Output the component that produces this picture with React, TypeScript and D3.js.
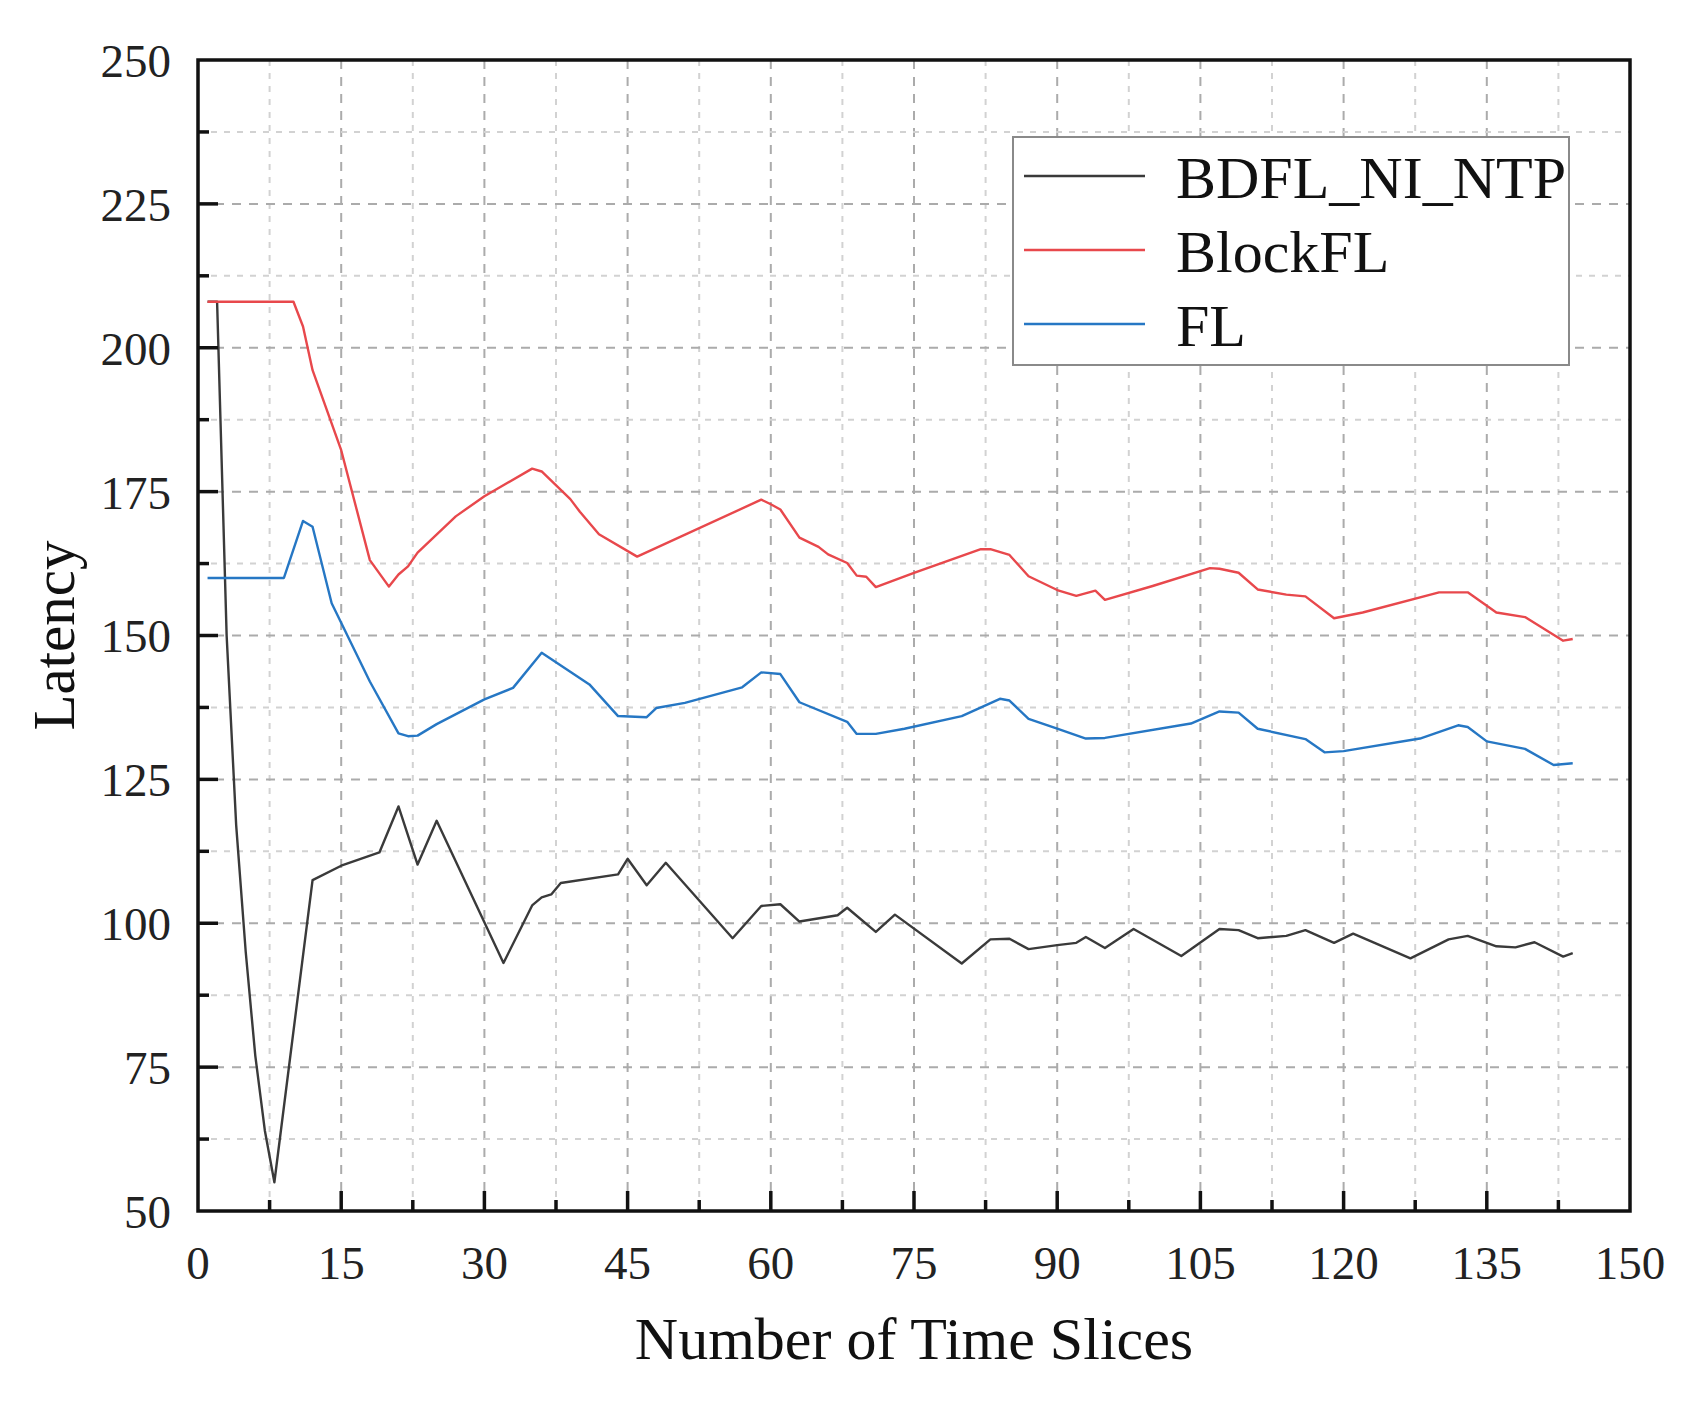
import { useRef, useEffect } from "react";
import * as d3 from "d3";

type Pt = [number, number];

// values (time slice, latency)
const BDFL_NI_NTP: Pt[] = [
  [1, 208], [2, 208], [3, 150], [4, 117], [5, 95], [6, 77], [7, 64], [8, 55],
  [12, 107.5], [15, 110], [19, 112.3], [21, 120.3], [23, 110.2], [25, 117.8],
  [32, 93.1], [35, 103.1], [36, 104.5], [37, 105], [38, 107], [44, 108.5],
  [45, 111.2], [47, 106.6], [49, 110.5], [56, 97.4], [59, 103], [61, 103.3],
  [63, 100.3], [67, 101.4], [68, 102.7], [71, 98.5], [73, 101.5], [80, 93],
  [83, 97.2], [85, 97.3], [87, 95.5], [90, 96.2], [92, 96.6], [93, 97.6],
  [95, 95.7], [98, 99], [103, 94.3], [107, 99], [109, 98.8], [111, 97.4],
  [114, 97.8], [116, 98.8], [119, 96.6], [121, 98.2], [127, 93.9], [131, 97.2],
  [133, 97.8], [136, 96], [138, 95.8], [140, 96.7], [143, 94.2], [144, 94.8],
];

const BLOCK_FL: Pt[] = [
  [1, 208], [10, 208], [11, 203.7], [12, 196.1], [15, 182.2], [18, 163.1],
  [20, 158.5], [21, 160.6], [22, 162], [23, 164.4], [27, 170.7], [30, 174.2],
  [35, 179], [36, 178.5], [38, 175.3], [39, 173.7], [40, 171.5], [42, 167.6],
  [46, 163.7], [59, 173.6], [60, 172.8], [61, 171.9], [63, 167], [65, 165.4],
  [66, 164.1], [68, 162.6], [69, 160.4], [70, 160.2], [71, 158.4], [75, 160.9],
  [82, 165], [83, 165], [85, 164], [87, 160.3], [90, 157.9], [92, 156.9],
  [94, 157.8], [95, 156.2], [100, 158.6], [106, 161.7], [107, 161.6],
  [109, 160.9], [111, 158], [114, 157.1], [116, 156.8], [119, 153], [122, 154],
  [130, 157.5], [133, 157.5], [136, 154], [139, 153.2], [143, 149.1], [144, 149.4],
];

const FL: Pt[] = [
  [1, 160], [9, 160], [11, 169.9], [12, 168.9], [14, 155.6], [18, 142],
  [21, 133], [22, 132.5], [23, 132.6], [25, 134.6], [30, 138.9], [33, 140.9],
  [36, 147], [41, 141.5], [44, 136], [47, 135.8], [48, 137.4], [51, 138.3],
  [57, 141], [59, 143.6], [61, 143.3], [63, 138.4], [68, 135], [69, 132.9],
  [71, 132.9], [74, 133.8], [80, 136], [84, 139], [85, 138.7], [87, 135.5],
  [90, 133.8], [93, 132.1], [95, 132.2], [104, 134.7], [107, 136.8],
  [109, 136.6], [111, 133.8], [116, 132], [118, 129.7], [120, 129.9],
  [128, 132.1], [132, 134.4], [133, 134.1], [135, 131.6], [139, 130.3],
  [142, 127.5], [144, 127.8],
];

const SERIES = [
  { name: "BDFL_NI_NTP", data: BDFL_NI_NTP, color: "#3a3a3a" },
  { name: "BlockFL", data: BLOCK_FL, color: "#e8484c" },
  { name: "FL", data: FL, color: "#2677c4" },
];

const X_TICKS = [0, 15, 30, 45, 60, 75, 90, 105, 120, 135, 150];
const Y_TICKS = [50, 75, 100, 125, 150, 175, 200, 225, 250];

const FONT = "'Liberation Serif', 'Times New Roman', serif";

export default function App() {
  const svgRef = useRef<SVGSVGElement>(null);

  useEffect(() => {
    if (!svgRef.current) return;
    const svg = d3.select(svgRef.current);
    svg.selectAll("*").remove();

    const W = 1694;
    const H = 1402;
    const margin = { top: 60, right: 64, bottom: 191, left: 198 };
    const width = W - margin.left - margin.right;
    const height = H - margin.top - margin.bottom;

    svg.attr("viewBox", `0 0 ${W} ${H}`);
    svg.append("rect").attr("width", W).attr("height", H).attr("fill", "#fff");

    const g = svg
      .append("g")
      .attr("transform", `translate(${margin.left},${margin.top})`);

    const x = d3.scaleLinear().domain([0, 150]).range([0, width]);
    const y = d3.scaleLinear().domain([50, 250]).range([height, 0]);

    const minorX = X_TICKS.slice(0, -1).map((t) => t + 7.5);
    const minorY = Y_TICKS.slice(0, -1).map((t) => t + 12.5);

    // grid
    const grid = g.append("g");
    grid
      .selectAll(".gx-minor")
      .data(minorX)
      .join("line")
      .attr("x1", (d) => x(d))
      .attr("x2", (d) => x(d))
      .attr("y1", 0)
      .attr("y2", height)
      .attr("stroke", "#d2d2d2")
      .attr("stroke-width", 2)
      .attr("stroke-dasharray", "6 7");
    grid
      .selectAll(".gx-major")
      .data(X_TICKS.slice(1, -1))
      .join("line")
      .attr("x1", (d) => x(d))
      .attr("x2", (d) => x(d))
      .attr("y1", 0)
      .attr("y2", height)
      .attr("stroke", "#ababab")
      .attr("stroke-width", 2)
      .attr("stroke-dasharray", "9 8");
    grid
      .selectAll(".gy-minor")
      .data(minorY)
      .join("line")
      .attr("x1", 0)
      .attr("x2", width)
      .attr("y1", (d) => y(d))
      .attr("y2", (d) => y(d))
      .attr("stroke", "#d2d2d2")
      .attr("stroke-width", 2)
      .attr("stroke-dasharray", "6 7");
    grid
      .selectAll(".gy-major")
      .data(Y_TICKS.slice(1, -1))
      .join("line")
      .attr("x1", 0)
      .attr("x2", width)
      .attr("y1", (d) => y(d))
      .attr("y2", (d) => y(d))
      .attr("stroke", "#ababab")
      .attr("stroke-width", 2)
      .attr("stroke-dasharray", "9 8");

    // lines
    const line = d3
      .line<Pt>()
      .x((d) => x(d[0]))
      .y((d) => y(d[1]));

    g.selectAll(".series")
      .data(SERIES)
      .join("path")
      .attr("d", (s) => line(s.data))
      .attr("fill", "none")
      .attr("stroke", (s) => s.color)
      .attr("stroke-width", 2.4)
      .attr("stroke-linejoin", "round");

    // frame
    g.append("rect")
      .attr("width", width)
      .attr("height", height)
      .attr("fill", "none")
      .attr("stroke", "#111")
      .attr("stroke-width", 3.5);

    // inward ticks
    const ticks = g.append("g").attr("stroke", "#111").attr("stroke-width", 3.5);
    ticks
      .selectAll(".tx")
      .data(X_TICKS.slice(1, -1))
      .join("line")
      .attr("x1", (d) => x(d))
      .attr("x2", (d) => x(d))
      .attr("y1", height)
      .attr("y2", height - 20);
    ticks
      .selectAll(".txm")
      .data(minorX)
      .join("line")
      .attr("x1", (d) => x(d))
      .attr("x2", (d) => x(d))
      .attr("y1", height)
      .attr("y2", height - 11);
    ticks
      .selectAll(".ty")
      .data(Y_TICKS.slice(1, -1))
      .join("line")
      .attr("x1", 0)
      .attr("x2", 20)
      .attr("y1", (d) => y(d))
      .attr("y2", (d) => y(d));
    ticks
      .selectAll(".tym")
      .data(minorY)
      .join("line")
      .attr("x1", 0)
      .attr("x2", 11)
      .attr("y1", (d) => y(d))
      .attr("y2", (d) => y(d));

    // tick labels
    g.selectAll(".xl")
      .data(X_TICKS)
      .join("text")
      .attr("x", (d) => x(d))
      .attr("y", height + 68)
      .attr("text-anchor", "middle")
      .attr("fill", "#222")
      .style("font-family", FONT)
      .style("font-size", "47px")
      .text((d) => d);

    g.selectAll(".yl")
      .data(Y_TICKS)
      .join("text")
      .attr("x", -27)
      .attr("y", (d) => y(d))
      .attr("dy", "0.36em")
      .attr("text-anchor", "end")
      .attr("fill", "#222")
      .style("font-family", FONT)
      .style("font-size", "47px")
      .text((d) => d);

    // axis titles
    g.append("text")
      .attr("x", width / 2)
      .attr("y", height + 148)
      .attr("text-anchor", "middle")
      .attr("fill", "#111")
      .style("font-family", FONT)
      .style("font-size", "60px")
      .text("Number of Time Slices");

    g.append("text")
      .attr(
        "transform",
        `translate(${74 - margin.left},${height / 2}) rotate(-90)`,
      )
      .attr("text-anchor", "middle")
      .attr("fill", "#111")
      .style("font-family", FONT)
      .style("font-size", "59px")
      .text("Latency");

    // legend
    const lg = svg.append("g").attr("transform", "translate(1013,137)");
    lg.append("rect")
      .attr("width", 556)
      .attr("height", 228)
      .attr("fill", "#fff")
      .attr("stroke", "#8a8a8a")
      .attr("stroke-width", 2);
    const items = lg
      .selectAll(".li")
      .data(SERIES)
      .join("g")
      .attr("transform", (_, i) => `translate(0,${39 + i * 74})`);
    items
      .append("line")
      .attr("x1", 11)
      .attr("x2", 132)
      .attr("stroke", (s) => s.color)
      .attr("stroke-width", 2.4);
    items
      .append("text")
      .attr("x", 163)
      .attr("y", 22)
      .attr("fill", "#111")
      .style("font-family", FONT)
      .style("font-size", "60px")
      .text((s) => s.name);
  }, []);

  return (
    <svg
      ref={svgRef}
      width={1694}
      height={1402}
      style={{ position: "absolute", left: 0, top: 0, display: "block" }}
    />
  );
}
